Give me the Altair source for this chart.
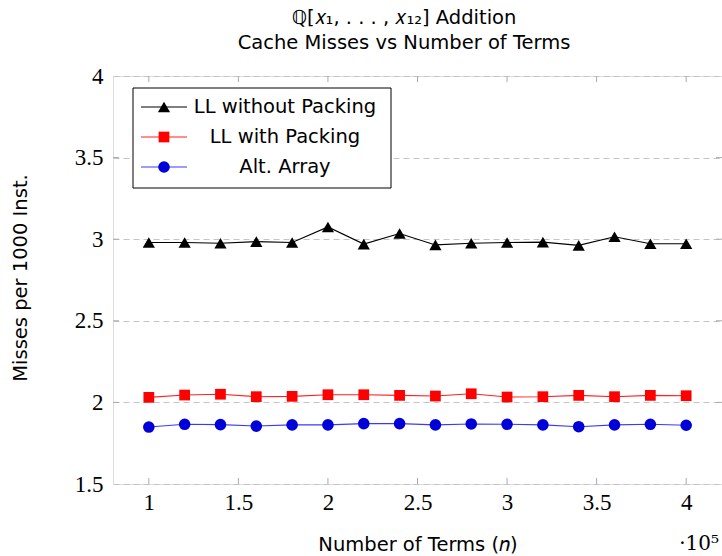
import altair as alt
import pandas as pd

# Number of terms (in units of 10^5)
terms = [1.0, 1.2, 1.4, 1.6, 1.8, 2.0, 2.2, 2.4, 2.6, 2.8, 3.0, 3.2, 3.4, 3.6, 3.8, 4.0]

# Cache misses per 1000 instructions for each implementation
ll_without_packing = [2.980, 2.980, 2.975, 2.985, 2.980, 3.075, 2.970, 3.035,
                      2.965, 2.975, 2.980, 2.982, 2.962, 3.015, 2.972, 2.972]
ll_with_packing = [2.031, 2.045, 2.050, 2.035, 2.037, 2.047, 2.047, 2.043,
                   2.039, 2.053, 2.033, 2.035, 2.043, 2.035, 2.043, 2.041]
alt_array = [1.849, 1.866, 1.864, 1.855, 1.862, 1.862, 1.870, 1.870,
             1.862, 1.868, 1.866, 1.862, 1.851, 1.862, 1.866, 1.860]

series_names = ["LL without Packing", "LL with Packing", "Alt. Array"]
series_values = [ll_without_packing, ll_with_packing, alt_array]
line_colors = ["#000000", "#ff2020", "#3a3aff"]
marker_colors = ["#000000", "#ff0000", "#0000d8"]
marker_shapes = ["triangle-up", "square", "circle"]
marker_sizes = [150, 115, 135]

x_ticks = [1.0, 1.5, 2.0, 2.5, 3.0, 3.5, 4.0]
y_ticks = [1.5, 2.0, 2.5, 3.0, 3.5, 4.0]

W, H = 609, 408
SERIF = "Liberation Serif"
SANS = "DejaVu Sans"
SANS_SIZE = 19.5
TICK_SIZE = 23

x_scale = alt.Scale(domain=[0.8, 4.2], nice=False, zero=False)
y_scale = alt.Scale(domain=[1.5, 4.0], nice=False, zero=False)

rows = []
for name, vals in zip(series_names, series_values):
    for t, v in zip(terms, vals):
        rows.append({"series": name, "n": t, "misses": v})
df = pd.DataFrame(rows)

x_enc = alt.X("n:Q", scale=x_scale, axis=alt.Axis(
    values=x_ticks, format="~g", grid=False, ticks=False, domain=False,
    labelFont=SERIF, labelFontSize=TICK_SIZE, labelColor="#000", labelPadding=7,
    title=None))
y_enc = alt.Y("misses:Q", scale=y_scale, axis=alt.Axis(
    values=y_ticks, format="~g", grid=True, gridDash=[6, 4], gridColor="#c4c4c4",
    gridWidth=1, ticks=False, domain=False,
    labelFont=SERIF, labelFontSize=TICK_SIZE, labelColor="#000", labelPadding=10,
    title=None))

layers = []

# Inside tick marks along the frame
xt = pd.DataFrame({"n": x_ticks})
yt = pd.DataFrame({"misses": y_ticks[1:-1]})
tick_style = dict(color="#aaaaaa", strokeWidth=1)
layers.append(alt.Chart(xt).mark_rule(**tick_style).encode(
    x=alt.X("n:Q", scale=x_scale), y=alt.value(H), y2=alt.value(H - 6)))
layers.append(alt.Chart(xt).mark_rule(**tick_style).encode(
    x=alt.X("n:Q", scale=x_scale), y=alt.value(0), y2=alt.value(6)))
layers.append(alt.Chart(yt).mark_rule(**tick_style).encode(
    y=alt.Y("misses:Q", scale=y_scale), x=alt.value(0), x2=alt.value(6)))
layers.append(alt.Chart(yt).mark_rule(**tick_style).encode(
    y=alt.Y("misses:Q", scale=y_scale), x=alt.value(W), x2=alt.value(W - 6)))

# Series lines and markers
for name, lc, mc, shp, sz in zip(series_names, line_colors, marker_colors,
                                 marker_shapes, marker_sizes):
    sub = df[df["series"] == name]
    base = alt.Chart(sub)
    layers.append(base.mark_line(color=lc, strokeWidth=1.1).encode(x=x_enc, y=y_enc))
    layers.append(base.mark_point(shape=shp, size=sz, filled=True, color=mc,
                                  opacity=1).encode(x=x_enc, y=y_enc))

# Legend box
lx0, ly0, lx1, ly1 = 20, 12, 278, 112
layers.append(alt.Chart(pd.DataFrame({"k": [0]})).mark_rect(
    fill="white", stroke="#000", strokeWidth=1).encode(
    x=alt.value(lx0), x2=alt.value(lx1), y=alt.value(ly0), y2=alt.value(ly1)))
row_y = [31, 61, 91]
for name, lc, mc, shp, sz, ry in zip(series_names, line_colors, marker_colors,
                                     marker_shapes, marker_sizes, row_y):
    lab = alt.Chart(pd.DataFrame({"label": [name]}))
    layers.append(lab.mark_rule(color=lc, strokeWidth=1.1).encode(
        x=alt.value(28), x2=alt.value(74), y=alt.value(ry)))
    layers.append(lab.mark_point(shape=shp, size=sz, filled=True, color=mc,
                                 opacity=1).encode(x=alt.value(51), y=alt.value(ry)))
    layers.append(lab.mark_text(font=SANS, fontSize=SANS_SIZE, align="center",
                                baseline="middle", color="#000").encode(
        text="label:N", x=alt.value(172), y=alt.value(ry)))

# Titles and axis captions
def caption(txt, x, y, size=SANS_SIZE, angle=0, font=SANS, align="center"):
    return alt.Chart(pd.DataFrame({"t": [txt]})).mark_text(
        font=font, fontSize=size, align=align, baseline="middle",
        color="#000", angle=angle).encode(text="t:N", x=alt.value(x), y=alt.value(y))

layers.append(caption("ℚ[𝑥₁, . . . , 𝑥₁₂] Addition", 291, -58))
layers.append(caption("Cache Misses vs Number of Terms", 291, -33))
layers.append(caption("Misses per 1000 Inst.", -92, 202, angle=270))
layers.append(caption("Number of Terms (𝑛)", 305, 469))
layers.append(caption("·10⁵", 606, 468, size=20, font="DejaVu Serif", align="right"))

chart = alt.layer(*layers).properties(
    width=W, height=H,
    autosize=alt.AutoSizeParams(type="none"),
    padding={"left": 113, "top": 76, "right": 0, "bottom": 72},
).configure_view(stroke="#000", strokeWidth=1.2
).configure(background="white")

chart.save("out.html", embed_options={"renderer": "svg", "actions": False})
